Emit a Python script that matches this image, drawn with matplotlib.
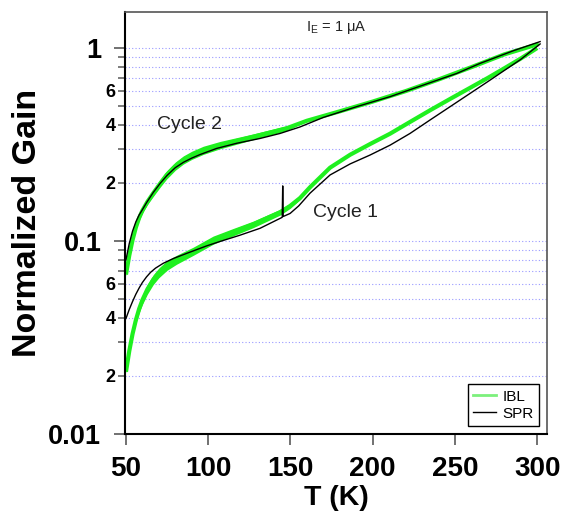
import numpy as np
import matplotlib
matplotlib.use("Agg")
import matplotlib.pyplot as plt
from matplotlib.lines import Line2D
from matplotlib.ticker import FixedLocator, FixedFormatter

plt.rcParams['font.family'] = ['Liberation Sans', 'DejaVu Sans']
plt.rcParams['mathtext.fontset'] = 'custom'
plt.rcParams['mathtext.rm'] = 'Liberation Sans'

# --- data ---
# SPR, cycle 2 (upper black curve)
spr2_t = [50, 52, 54, 56, 58, 60, 62.6, 66.6, 70.7, 75, 80, 85, 90, 95, 105.2, 117.3,
          131.5, 143.7, 155.8, 170, 190.3, 210.6, 230.8, 251.2, 265.3, 285.6, 301.8]
spr2_g = [0.080, 0.097, 0.1125, 0.1256, 0.1365, 0.1455, 0.1585, 0.1786, 0.1986, 0.2188,
          0.240, 0.256, 0.269, 0.2805, 0.302, 0.321, 0.340, 0.361, 0.390, 0.437, 0.497,
          0.560, 0.643, 0.739, 0.833, 0.969, 1.08]

# IBL, cycle 2 (upper green curve)
ibl2_t = [50, 52, 54, 56, 58, 60, 63, 66.6, 70.7, 74.7, 80, 84.9, 90, 97, 107.2, 127.4,
          147.7, 160, 180, 200, 220, 240, 260, 280, 301]
ibl2_g = [0.067, 0.0841, 0.1012, 0.1175, 0.1318, 0.1439, 0.1596, 0.1770, 0.1982, 0.2198,
          0.2443, 0.2630, 0.2780, 0.2951, 0.314, 0.347, 0.384, 0.420, 0.470, 0.528, 0.598,
          0.687, 0.796, 0.927, 1.05]
ibl2_spread = [1.015, 1.02, 1.02, 1.025, 1.03, 1.03, 1.035, 1.04, 1.045, 1.05, 1.05, 1.05,
               1.05, 1.05, 1.045, 1.035, 1.03, 1.0, 1.0, 1.0, 1.0, 1.0, 1.0, 1.0, 1.0]

# SPR, cycle 1 (lower black curve, with the glitch near 145 K)
spr1_t = [50, 52, 54, 56, 58, 60, 62.5, 65, 68, 72.7, 79, 86.9, 99.1, 107.2, 119.3, 131.5,
          145.0, 145.3, 145.6, 149.8, 155, 161.9, 174.1, 186.3, 198.4, 210.6, 222.7, 234.9,
          247.1, 259.2, 270, 280, 290, 301.8]
spr1_g = [0.0397, 0.0442, 0.0486, 0.0530, 0.0571, 0.0610, 0.0652, 0.0689, 0.0724, 0.0767,
          0.0813, 0.0863, 0.0944, 0.0995, 0.1072, 0.1164, 0.1327, 0.193, 0.134, 0.139, 0.152,
          0.177, 0.220, 0.251, 0.279, 0.314, 0.361, 0.424, 0.497, 0.582, 0.670, 0.765, 0.873,
          1.05]

# IBL, cycle 1 (lower green curve)
ibl1_t = [50, 52, 54, 56, 58, 60, 63, 66.6, 70, 75, 80.8, 90.9, 103, 115, 127.4, 143.7,
          149.8, 155.8, 161.9, 174.1, 186.3, 198.4, 210.6, 222.7, 234.9, 247.1, 259.2,
          270, 280, 290, 300]
ibl1_g = [0.0210, 0.0269, 0.0330, 0.0389, 0.0445, 0.0495, 0.0562, 0.0631, 0.0684, 0.0748,
          0.0800, 0.0885, 0.1010, 0.1110, 0.1220, 0.1410, 0.152, 0.167, 0.190, 0.240, 0.280,
          0.318, 0.360, 0.414, 0.476, 0.545, 0.622, 0.700, 0.785, 0.882, 1.00]
ibl1_spread = [1.015, 1.02, 1.03, 1.04, 1.05, 1.055, 1.06, 1.06, 1.06, 1.06, 1.055, 1.05,
               1.05, 1.045, 1.04, 1.035, 1.03, 1.02, 1.0, 1.0, 1.0, 1.0, 1.0, 1.0, 1.0,
               1.0, 1.0, 1.0, 1.0, 1.0, 1.0]

x_ticks = [50, 100, 150, 200, 250, 300]
y_major = [0.01, 0.1, 1]
y_major_labels = ['0.01', '0.1', '1']
y_minor = [m * d for d in (0.01, 0.1) for m in range(2, 10)]
minor_label_vals = {2: '2', 4: '4', 6: '6'}

GREEN = '#1ff01f'

fig = plt.figure(figsize=(5.64, 5.25), dpi=100)
ax = fig.add_axes([0.2216, 0.1733, 0.7483, 0.8038])

ax.set_yscale('log')
ax.set_xlim(49.4, 306)
ax.set_ylim(0.01, 1.537)

# green (IBL) curves: noisy band + line
for t, g, s in ((ibl2_t, ibl2_g, ibl2_spread), (ibl1_t, ibl1_g, ibl1_spread)):
    t = np.array(t); g = np.array(g); s = np.array(s)
    ax.fill_between(t, g / s, g * s, color=GREEN, lw=0, zorder=2)
    ax.plot(t, g, color=GREEN, lw=3.0, solid_capstyle='butt', zorder=2)

# black (SPR) curves
ax.plot(spr2_t, spr2_g, color='black', lw=1.0, zorder=3)
ax.plot(spr1_t, spr1_g, color='black', lw=1.0, zorder=3)

# ticks
ax.xaxis.set_major_locator(FixedLocator(x_ticks))
ax.set_xticklabels([str(v) for v in x_ticks])
ax.yaxis.set_major_locator(FixedLocator(y_major))
ax.yaxis.set_major_formatter(FixedFormatter(y_major_labels))
ax.yaxis.set_minor_locator(FixedLocator(y_minor))
minor_labels = []
for v in y_minor:
    lead = int(round(v / 10 ** np.floor(np.log10(v) + 1e-9)))
    minor_labels.append(minor_label_vals.get(lead, ''))
ax.yaxis.set_minor_formatter(FixedFormatter(minor_labels))

ax.tick_params(axis='x', which='major', direction='out', length=8, width=1.3,
               color='#666666', labelsize=20, pad=8)
ax.tick_params(axis='y', which='major', direction='out', length=8, width=1.3,
               color='#666666', labelsize=19.5, pad=9)
ax.tick_params(axis='y', which='minor', direction='out', length=5, width=1.2,
               color='#666666', labelsize=13, pad=2)
for lab in ax.get_xticklabels() + ax.get_yticklabels() + ax.get_yticklabels(minor=True):
    lab.set_fontweight('bold')

# dotted horizontal grid
ax.yaxis.grid(True, which='both', color='#9a9aff', linestyle=(0, (1, 2)), lw=0.8, zorder=0)
ax.xaxis.grid(False)
ax.set_axisbelow(True)

for side in ('left', 'bottom'):
    ax.spines[side].set_color('black')
    ax.spines[side].set_linewidth(1.5)
for side in ('top', 'right'):
    ax.spines[side].set_color('#555555')
    ax.spines[side].set_linewidth(1.2)

ax.set_xlabel('T (K)', fontsize=20.5, fontweight='bold', labelpad=2)
ax.set_ylabel('Normalized Gain', fontsize=24.5, fontweight='bold', labelpad=4)

ax.text(88.9, 0.40, 'Cycle 2', fontsize=14, color='#222222', ha='center', va='center')
ax.text(183.2, 0.141, 'Cycle 1', fontsize=14, color='#222222', ha='center', va='center')
ax.text(0.5, 0.964, r'I$_\mathregular{E}$ = 1 μA', transform=ax.transAxes,
        fontsize=10.5, color='#222222', ha='center', va='center')

handles = [Line2D([], [], color='#7cf07c', lw=2), Line2D([], [], color='black', lw=1)]
leg = ax.legend(handles, ['IBL', 'SPR'], loc='lower right', bbox_to_anchor=(0.981, 0.019),
                borderaxespad=0, fontsize=11, handlelength=1.5, handletextpad=0.4,
                labelspacing=0.2, borderpad=0.35, fancybox=False, framealpha=1)
leg.get_frame().set_edgecolor('black')
leg.get_frame().set_linewidth(1.0)

fig.savefig('out.png', dpi=100)
